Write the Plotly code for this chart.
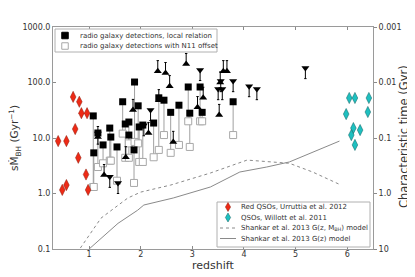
import plotly.graph_objects as go

# ---------------- data ----------------
# Red QSOs, Urruttia et al. 2012
red_z = [0.69, 0.81, 0.85, 0.96, 0.73, 0.40, 0.56, 0.79, 0.94, 0.48, 0.56, 0.98]
red_s = [55, 45, 28, 28, 14.5, 8.8, 8.8, 4.4, 2.2, 1.16, 1.42, 1.16]

# QSOs, Willott et al. 2011
cyan_z = [6.04, 6.15, 6.42, 5.98, 6.40, 6.12, 6.25, 6.08, 6.15]
cyan_s = [52.6, 52.6, 52.6, 27, 29.4, 15.1, 13.9, 11.3, 7.5]

# Shankar et al. 2013 G(z, M_BH) model
dash_z = [0.83, 1.23, 1.75, 2.0, 2.58, 3.35, 4.06, 4.5, 4.88, 5.33, 5.88]
dash_s = [0.104, 0.36, 0.83, 1.06, 1.42, 2.34, 4.0, 3.7, 3.5, 2.44, 1.42]

# Shankar et al. 2013 G(z) model
solid_z = [1.0, 1.56, 1.94, 2.06, 2.63, 3.35, 3.92, 4.44, 4.88, 5.33, 5.85]
solid_s = [0.10, 0.29, 0.50, 0.62, 0.83, 1.31, 2.44, 3.0, 3.7, 5.6, 8.8]

# radio galaxy detections: redshift, local relation, N11 offset
rg_z = [1.08, 1.09, 1.17, 1.27, 1.40, 1.42, 1.54, 1.65, 1.70, 1.77, 1.77, 1.87,
        1.88, 1.95, 1.97, 2.04, 2.25, 2.35, 2.45, 2.58, 2.74, 2.92, 2.95, 3.15,
        3.19, 3.79]
rg_local = [25, 5.4, 12.3, 7.5, 15.1, 10.4, 6.9, 45, 17.9, 19.4, 11.3, 6.1,
            102, 38, 15.8, 17.1, 18.6, 53, 48, 29, 39, 83, 28, 83,
            29, 45]
rg_n11 = [1.31, 1.31, 3.0, 3.5, 3.9, 3.9, 1.7, 12, 4.4, 4.4, 8.0, 1.55,
          8.5, 8.0, 3.7, 3.7, 4.5, 6.1, 11.3, 5.4, 7.5, 20, 6.9, 20,
          20, 11.3]

# limits (triangles)
up_z = [1.17, 1.29, 1.71, 1.85, 2.15, 2.33, 2.48, 2.56, 2.35, 2.88, 3.21, 3.10,
        2.63, 3.52, 3.60, 3.67, 3.54]
up_s = [10.4, 2.15, 4.5, 32, 12.3, 160, 148, 86, 48, 215, 53, 36,
        8.5, 26, 160, 160, 100]
down_z = [1.40, 1.56, 2.19, 3.15, 3.50, 3.58, 3.79, 4.10, 4.25, 5.19, 3.55, 1.17, 2.06]
down_s = [2.0, 1.55, 32, 168, 76, 76, 106, 86, 76, 182, 106, 12, 17]

y_ticks = [0.1, 1, 10, 100, 1000]
y_ticktext = ["0.1", "1.0", "10.0", "100.0", "1000.0"]
t_ticks = [0.001, 0.01, 0.1, 1, 10]
t_ticktext = ["0.001", "0.01", "0.1", "1.0", "10"]
x_ticks = [1, 2, 3, 4, 5, 6]

# ---------------- figure ----------------
OFF = 8  # page body margin of the browser
W, H = 415 - OFF, 277 - OFF
L, R, T, B = 53, 373, 27, 249          # plot area in window pixels
FONT = "DejaVu Sans"
TXT = "#333333"
GRAY = "#8a8a8a"


def px(x):
    return (x - L) / (R - L)


def py(y):
    return (B - y) / (B - T)


fig = go.Figure()

# connecting lines
lx, ly = [], []
for z, a, b in zip(rg_z, rg_local, rg_n11):
    lx += [z, z, None]
    ly += [a, b, None]
fig.add_trace(go.Scatter(x=lx, y=ly, mode="lines", line=dict(color="#a0a0a0", width=1),
                         hoverinfo="skip", showlegend=False))

fig.add_trace(go.Scatter(x=dash_z, y=dash_s, mode="lines",
                         line=dict(color=GRAY, width=1, dash="3px,3px"), showlegend=False))
fig.add_trace(go.Scatter(x=solid_z, y=solid_s, mode="lines",
                         line=dict(color=GRAY, width=1), showlegend=False))

fig.add_trace(go.Scatter(x=rg_z, y=rg_n11, mode="markers",
                         marker=dict(symbol="square", size=7, color="white",
                                     line=dict(color="#a8a8a8", width=1)), showlegend=False))

fig.add_trace(go.Scatter(
    x=up_z, y=up_s, mode="markers",
    marker=dict(symbol="triangle-up", size=7, color="black", line=dict(width=0)),
    error_y=dict(type="data", symmetric=False, array=[0.55 * v for v in up_s],
                 arrayminus=[0 for v in up_s], color="black", thickness=1, width=1.2),
    showlegend=False))
fig.add_trace(go.Scatter(
    x=down_z, y=down_s, mode="markers",
    marker=dict(symbol="triangle-down", size=7, color="black", line=dict(width=0)),
    error_y=dict(type="data", symmetric=False, array=[0 for v in down_s],
                 arrayminus=[v * (1 - 1 / 1.55) for v in down_s], color="black",
                 thickness=1, width=1.2),
    showlegend=False))

fig.add_trace(go.Scatter(x=rg_z, y=rg_local, mode="markers",
                         marker=dict(symbol="square", size=7, color="black", line=dict(width=0)),
                         showlegend=False))

fig.add_trace(go.Scatter(x=red_z, y=red_s, mode="markers",
                         marker=dict(symbol="diamond-tall", size=8, color="#ee2a16",
                                     line=dict(color="#8a1a0a", width=0.5)), showlegend=False))
fig.add_trace(go.Scatter(x=cyan_z, y=cyan_s, mode="markers",
                         marker=dict(symbol="diamond-tall", size=8, color="#1ec0c0",
                                     line=dict(color="#0d5f5f", width=0.5)), showlegend=False))

# invisible trace carrying the characteristic time axis
fig.add_trace(go.Scatter(x=cyan_z, y=[1 / v for v in cyan_s], yaxis="y2", mode="markers",
                         marker=dict(opacity=0), hoverinfo="skip", showlegend=False))

axis_font = dict(family=FONT, size=8, color=TXT)
fig.update_layout(
    width=W, height=H,
    margin=dict(l=L - OFF, r=W - (R - OFF), t=T - OFF, b=H - (B - OFF), autoexpand=False),
    paper_bgcolor="white", plot_bgcolor="white",
    font=dict(family=FONT, color=TXT),
    xaxis=dict(range=[0.3, 6.5], tickvals=x_ticks, ticks="inside", ticklen=3,
               tickcolor=GRAY, showline=True, linecolor="#9a9a9a", linewidth=1,
               mirror="ticks", showgrid=False, zeroline=False, tickfont=axis_font,
               ticklabelstandoff=-3),
    yaxis=dict(type="log", range=[-1, 3], tickvals=y_ticks, ticktext=y_ticktext,
               ticks="inside", ticklen=3, tickcolor=GRAY, showline=True,
               linecolor="#9a9a9a", linewidth=1, showgrid=False, zeroline=False,
               tickfont=axis_font),
    yaxis2=dict(type="log", range=[1, -3], overlaying="y", side="right",
                tickvals=t_ticks, ticktext=t_ticktext, ticks="outside", ticklen=3,
                tickcolor=GRAY, showline=True, linecolor="#9a9a9a", linewidth=1,
                showgrid=False, zeroline=False, tickfont=axis_font),
)

shapes = []
annotations = []

# axis titles
annotations.append(dict(x=px(213), y=py(265), xref="paper", yref="paper", text="redshift",
                        showarrow=False, font=dict(family=FONT, size=11, color=TXT),
                        xanchor="center", yanchor="middle"))
annotations.append(dict(x=px(15), y=py(138), xref="paper", yref="paper",
                        text="sṀ<sub>BH</sub> (Gyr<sup>−1</sup>)", textangle=-90,
                        showarrow=False, font=dict(family=FONT, size=10.5, color=TXT),
                        xanchor="center", yanchor="middle"))
annotations.append(dict(x=px(404), y=py(137), xref="paper", yref="paper",
                        text="Characteristic time (Gyr)", textangle=-90,
                        showarrow=False, font=dict(family=FONT, size=11.5, color=TXT),
                        xanchor="center", yanchor="middle"))

# legend 1 (top left)
shapes.append(dict(type="rect", xref="paper", yref="paper", x0=px(55), x1=px(217),
                   y0=py(52), y1=py(29), line=dict(color="#b0b0b0", width=1), fillcolor="white"))


def sq(cx, cy, s, fill, edge):
    return dict(type="rect", xref="paper", yref="paper", x0=px(cx - s / 2), x1=px(cx + s / 2),
                y0=py(cy + s / 2), y1=py(cy - s / 2), fillcolor=fill,
                line=dict(color=edge, width=1))


shapes.append(sq(65, 35.5, 6.5, "black", "black"))
shapes.append(sq(65, 46, 6.5, "white", "#a8a8a8"))
leg_font = dict(family=FONT, size=7, color=TXT)
for yy, txt in [(35.5, "radio galaxy detections, local relation"),
                (46, "radio galaxy detections with N11 offset")]:
    annotations.append(dict(x=px(78), y=py(yy), xref="paper", yref="paper", text=txt,
                            showarrow=False, font=leg_font, xanchor="left", yanchor="middle"))

# legend 2 (bottom right)
shapes.append(dict(type="rect", xref="paper", yref="paper", x0=px(217), x1=px(370),
                   y0=py(247), y1=py(202), line=dict(color="#b0b0b0", width=1), fillcolor="white"))


def diamond(cx, cy, fill, edge):
    w, h = 2.6, 4.5
    p = "M {} {} L {} {} L {} {} L {} {} Z".format(
        px(cx), py(cy - h), px(cx + w), py(cy), px(cx), py(cy + h), px(cx - w), py(cy))
    return dict(type="path", xref="paper", yref="paper", path=p, fillcolor=fill,
                line=dict(color=edge, width=0.5))


rows = [207, 217.5, 228, 238.5]
shapes.append(diamond(228, rows[0], "#ee2a16", "#8a1a0a"))
shapes.append(diamond(228, rows[1], "#1ec0c0", "#0d5f5f"))
shapes.append(dict(type="line", xref="paper", yref="paper", x0=px(220), x1=px(236),
                   y0=py(rows[2]), y1=py(rows[2]), line=dict(color=GRAY, width=1, dash="3px,3px")))
shapes.append(dict(type="line", xref="paper", yref="paper", x0=px(220), x1=px(236),
                   y0=py(rows[3]), y1=py(rows[3]), line=dict(color=GRAY, width=1)))
for yy, txt in zip(rows, ["Red QSOs, Urruttia et al. 2012",
                          "QSOs, Willott et al. 2011",
                          "Shankar et al. 2013 G(z, M<sub>BH</sub>) model",
                          "Shankar et al. 2013 G(z) model"]):
    annotations.append(dict(x=px(239), y=py(yy), xref="paper", yref="paper", text=txt,
                            showarrow=False, font=leg_font, xanchor="left", yanchor="middle"))

fig.update_layout(shapes=shapes, annotations=annotations)
fig.write_html("out.html")
